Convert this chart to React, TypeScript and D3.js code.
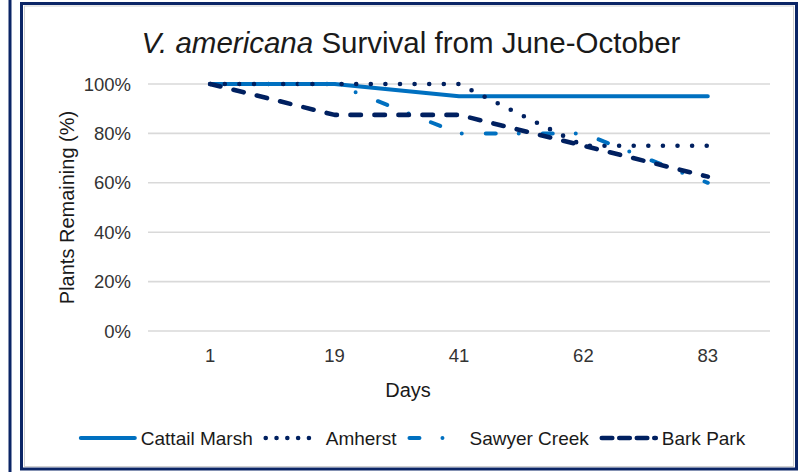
import React, { useMemo } from "react";
import * as d3 from "d3";

// Survey days (category axis)
const days = ["1", "19", "41", "62", "83"];

// Percent of plants remaining at each site
const cattailMarsh = [100, 100, 95, 95, 95];
const amherst = [100, 100, 100, 75, 75];
const sawyerCreek = [100, 100, 80, 80, 60];
const barkPark = [100, 87.5, 87.5, 75, 62.5];

const yTicks = [0, 20, 40, 60, 80, 100];

const seriesNames = ["Cattail Marsh", "Amherst", "Sawyer Creek", "Bark Park"];
const seriesValues = [cattailMarsh, amherst, sawyerCreek, barkPark];

const W = 802;
const H = 472;
const FONT = "'Liberation Sans', Arial, Helvetica, sans-serif";

type Style = { color: string; width: number; dash: string; legendDash: string };
const styles: Style[] = [
  { color: "#0070C0", width: 4, dash: "none", legendDash: "none" },
  { color: "#002060", width: 4.6, dash: "0 14.6", legendDash: "0 10.8" },
  { color: "#0070C0", width: 4, dash: "10 23 0 24", legendDash: "10 23 0 24" },
  { color: "#002060", width: 4.6, dash: "10.5 13.5", legendDash: "10.5 7" },
];

export default function App() {
  const x = d3.scaleBand<string>().domain(days).range([148, 770]);
  const y = d3.scaleLinear().domain([0, 100]).range([331, 84]);
  const cx = (d: string) => (x(d) as number) + x.bandwidth() / 2;

  const line = d3
    .line<number>()
    .x((_, i) => cx(days[i]))
    .y((v) => y(v));

  const legendFont = 19;
  const sampleLen = 58;
  const legendItems = useMemo(() => {
    const canvas = document.createElement("canvas");
    const ctx = canvas.getContext("2d")!;
    ctx.font = `${legendFont}px ${FONT}`;
    const widths = seriesNames.map((n) => ctx.measureText(n).width);
    const gapText = 4;
    const gapItem = 11;
    const total =
      widths.reduce((a, w) => a + sampleLen + gapText + w, 0) + gapItem * (widths.length - 1);
    let start = 412 - total / 2;
    return seriesNames.map((name, i) => {
      const item = { name, x: start, textX: start + sampleLen + gapText };
      start += sampleLen + gapText + widths[i] + gapItem;
      return item;
    });
  }, []);

  const legendY = 438;

  return (
    <div style={{ position: "fixed", left: 0, top: 0, background: "#fff" }}>
      <svg width={W} height={H} style={{ display: "block" }} fontFamily={FONT}>
        <rect x={0} y={0} width={W} height={H} fill="#fff" />
        {/* neighbouring frame edge */}
        <line x1={10} y1={0} x2={10} y2={H} stroke="#0b2566" strokeWidth={3} />
        {/* chart frame */}
        <rect x={21.5} y={3.5} width={775} height={465.5} fill="#fff" stroke="#0b2566" strokeWidth={3} />
        <rect x={24.5} y={6} width={769} height={460.5} fill="none" stroke="#d0d0d0" strokeWidth={1} />

        {/* title */}
        <text x={411} y={53} textAnchor="middle" fontSize={29.5} fill="#1a1a1a">
          <tspan fontStyle="italic">V. americana</tspan>
          <tspan> Survival from June-October</tspan>
        </text>

        {/* gridlines and y ticks */}
        {yTicks.map((t) => (
          <g key={t}>
            <line x1={148} x2={770} y1={y(t)} y2={y(t)} stroke="#d9d9d9" strokeWidth={1.6} />
            <text x={131} y={y(t) + 6.5} textAnchor="end" fontSize={18.5} fill="#333">
              {d3.format(".0%")(t / 100)}
            </text>
          </g>
        ))}

        {/* x ticks */}
        {days.map((d) => (
          <text key={d} x={cx(d)} y={361.5} textAnchor="middle" fontSize={18.5} fill="#333">
            {d}
          </text>
        ))}

        {/* axis titles */}
        <text x={408} y={397} textAnchor="middle" fontSize={20} fill="#1a1a1a">
          Days
        </text>
        <text
          transform={`translate(74,${(y(0) + y(100)) / 2}) rotate(-90)`}
          textAnchor="middle"
          fontSize={20}
          fill="#1a1a1a"
        >
          Plants Remaining (%)
        </text>

        {/* series */}
        {seriesValues.map((vals, i) => (
          <path
            key={seriesNames[i]}
            d={line(vals) || ""}
            fill="none"
            stroke={styles[i].color}
            strokeWidth={styles[i].width}
            strokeDasharray={styles[i].dash}
            strokeLinecap="round"
            strokeLinejoin="round"
          />
        ))}

        {/* legend */}
        {legendItems.map((it, i) => (
          <g key={it.name}>
            <line
              x1={it.x + 2}
              x2={it.x + sampleLen - 2}
              y1={legendY}
              y2={legendY}
              stroke={styles[i].color}
              strokeWidth={styles[i].width}
              strokeDasharray={styles[i].legendDash}
              strokeLinecap="round"
            />
            <text x={it.textX} y={legendY + 6.5} fontSize={legendFont} fill="#1a1a1a">
              {it.name}
            </text>
          </g>
        ))}
      </svg>
    </div>
  );
}
